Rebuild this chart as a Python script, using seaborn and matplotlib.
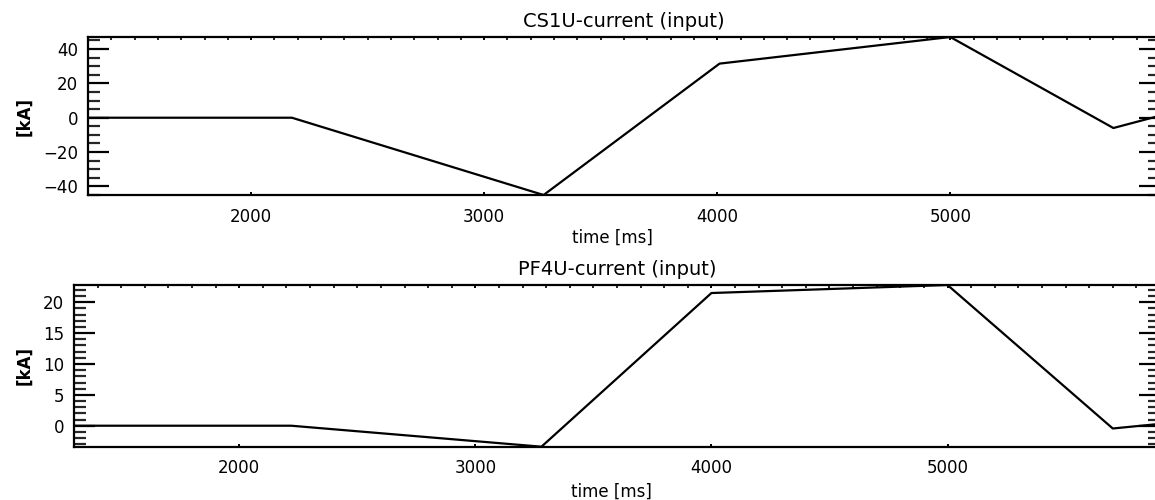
import matplotlib
matplotlib.use("Agg")
import matplotlib.pyplot as plt
import seaborn as sns
import pandas as pd
from matplotlib.ticker import MultipleLocator

# Data
cs1u_time = [1300, 2175, 3255, 4010, 5000, 5700, 5900]
cs1u_current = [0.0, 0.0, -45.0, 31.5, 47.0, -6.0, 1.2]

pf4u_time = [1300, 2220, 3280, 4000, 5000, 5700, 5900]
pf4u_current = [0.0, 0.0, -3.4, 21.5, 22.8, -0.45, 0.3]

titles = ["CS1U-current (input)", "PF4U-current (input)"]
xlabel = "time [ms]"
ylabel = "[kA]"

sns.set_theme(style="ticks")
plt.rcParams['font.family'] = ['DejaVu Sans']

fig = plt.figure(figsize=(11.55, 5.0), dpi=100)
ax1 = fig.add_axes([88/1155, 1-195/500, 1072/1155, 158/500])
ax2 = fig.add_axes([74/1155, 1-446.7/500, 1086/1155, 161.7/500])

df1 = pd.DataFrame({"t": cs1u_time, "I": cs1u_current})
df2 = pd.DataFrame({"t": pf4u_time, "I": pf4u_current})

specs = [
    (ax1, df1, (-45, 47), [-40, -20, 0, 20, 40], 5, titles[0], -0.0513, 0.489, -0.215),
    (ax2, df2, (-3.4, 22.8), [0, 5, 10, 15, 20], 1, titles[1], -0.0378, 0.495, -0.224),
]

for ax, df, ylim, yt, yminor, title, ylx, xlx, xly in specs:
    sns.lineplot(data=df, x="t", y="I", ax=ax, color="black", linewidth=1.6,
                 estimator=None, sort=False)
    ax.set_xlim(1300, 5900)
    ax.set_ylim(*ylim)
    ax.set_xticks([2000, 3000, 4000, 5000])
    ax.xaxis.set_minor_locator(MultipleLocator(100))
    ax.set_yticks(yt)
    ax.yaxis.set_minor_locator(MultipleLocator(yminor))
    for s in ax.spines.values():
        s.set_visible(True)
        s.set_linewidth(1.6)
        s.set_color("black")
    ax.tick_params(axis="y", which="major", direction="in", length=15, width=1.6,
                   left=True, right=True, labelsize=12, pad=7, colors="black")
    ax.tick_params(axis="y", which="minor", direction="in", length=8.5, width=1.6,
                   left=True, right=True)
    ax.tick_params(axis="x", which="major", direction="in", length=2.5, width=1.4,
                   bottom=True, top=True, labelsize=12, pad=9, colors="black")
    ax.tick_params(axis="x", which="minor", direction="in", length=2.5, width=1.4,
                   bottom=False, top=True)
    ax.set_title(title, fontsize=14, pad=7, color="black")
    ax.set_xlabel(xlabel, fontsize=12, color="black")
    ax.set_ylabel(ylabel, fontsize=12, fontweight="bold", color="black")
    ax.yaxis.set_label_coords(ylx, 0.5)
    ax.xaxis.set_label_coords(xlx, xly)
    ax.grid(False)

fig.savefig("out.png", dpi=100, facecolor="white")
